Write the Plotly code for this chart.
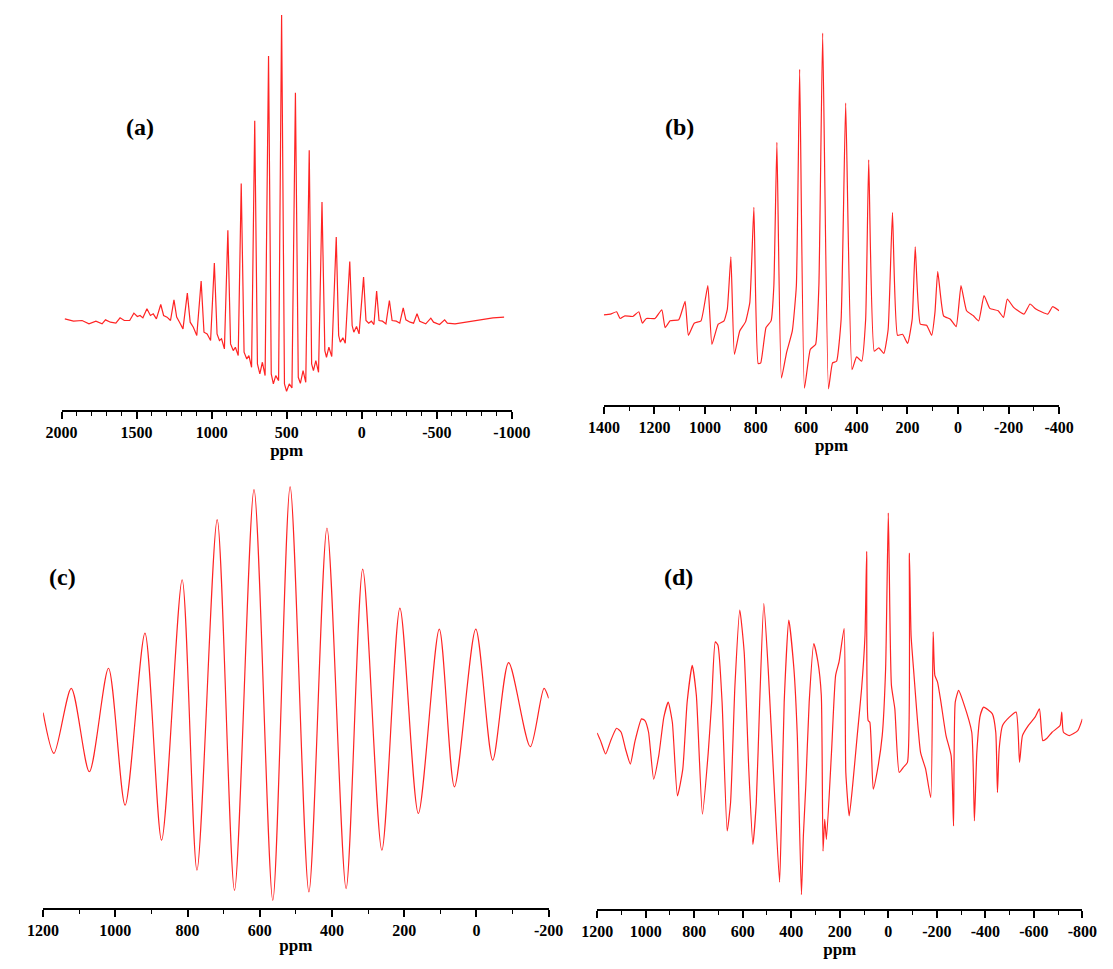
import plotly.graph_objects as go

# ---------------- data ----------------
# panel (a): chemical shift (ppm) and intensity (arb. units, 0 = axis)
a_ppm = [1978, 1920, 1863, 1817, 1771, 1730, 1707, 1674, 1638, 1610, 1582, 1546, 1518, 1495, 1477, 1458,
         1431, 1408, 1389, 1368, 1339, 1320, 1297, 1274, 1251, 1233, 1214, 1191, 1162, 1143, 1122, 1099,
         1070, 1051, 1030, 1007, 982, 964, 948, 934, 915, 892, 874, 856, 842, 823, 803, 784, 766, 752, 734,
         713, 695, 679, 662, 644, 621, 603, 589, 573, 554, 534, 515, 501, 483, 465, 442, 423, 409, 391, 373,
         350, 334, 322, 306, 288, 265, 246, 235, 219, 200, 170, 154, 143, 126, 110, 80, 64, 53, 35, 18,
         -12, -28, -46, -64, -81, -99, -115, -138, -161, -184, -202, -230, -253, -276, -294, -322, -345,
         -368, -386, -426, -460, -478, -518, -552, -570, -621, -690, -782, -874, -948]
a_int = [273, 266, 268, 258, 266, 258, 270, 263, 260, 276, 268, 268, 290, 280, 283, 276,
         303, 283, 288, 273, 316, 283, 278, 268, 330, 278, 263, 243, 350, 263, 248, 223,
         386, 233, 228, 208, 440, 228, 208, 213, 183, 538, 198, 178, 188, 163, 678, 173, 153, 163, 128,
         866, 138, 108, 143, 103, 1060, 108, 78, 103, 88, 1183, 78, 56, 78, 66, 950, 98, 80, 118, 83,
         778, 138, 118, 148, 113, 623, 178, 158, 188, 160, 518, 223, 203, 216, 200, 445, 253, 233, 250, 228,
         398, 268, 260, 266, 256, 356, 268, 266, 258, 328, 268, 266, 260, 306, 270, 263, 260,
         288, 266, 258, 275, 263, 256, 270, 260, 258, 263, 268, 276, 278]

# panel (b)
b_ppm = [1401, 1374, 1350, 1336, 1317, 1286, 1262, 1248, 1232, 1198, 1171, 1158, 1138, 1104, 1079, 1066,
         1043, 1016, 989, 973, 948, 925, 912, 898, 884, 863, 840, 823, 807, 790, 780, 759, 739, 728, 716,
         698, 678, 655, 639, 626, 607, 584, 563, 550, 535, 512, 496, 480, 462, 444, 419, 401, 381, 365, 353,
         331, 313, 293, 276, 259, 239, 219, 199, 181, 169, 149, 124, 104, 91, 80, 57, 30, 7, -12, -34, -61,
         -82, -103, -126, -159, -180, -195, -220, -261, -285, -308, -355, -374, -400]
b_int = [268, 270, 277, 257, 265, 263, 277, 243, 257, 257, 283, 230, 250, 253, 308, 207,
         243, 250, 355, 180, 240, 250, 285, 440, 150, 220, 247, 305, 587, 123, 125, 230, 250, 355, 780,
         80, 155, 220, 355, 997, 50, 165, 180, 355, 1105, 48, 125, 130, 255, 897, 105, 143, 130, 255, 728,
         160, 170, 153, 225, 572, 207, 210, 183, 255, 470, 240, 237, 207, 275, 397, 265, 255, 233, 355, 280, 265,
         250, 325, 287, 280, 260, 315, 290, 270, 300, 285, 270, 292, 280]

# panel (c): extrema of the oscillating spectrum
c_ppm = [1200, 1170, 1122, 1072, 1019, 973, 918, 872, 815, 774, 718, 670, 616, 564, 516, 464, 414,
         361, 315, 262, 212, 161, 103, 61, 2, -45, -89, -149, -187, -200]
c_int = [585, 463, 658, 408, 718, 308, 823, 203, 983, 113, 1163, 53, 1253, 23, 1261, 48, 1138,
         58, 1015, 173, 898, 283, 835, 363, 835, 443, 735, 483, 658, 628]

# panel (d)
d_ppm = [1200, 1186, 1165, 1144, 1120, 1101, 1083, 1063, 1045, 1017, 1003, 988, 967, 946, 925, 907, 890,
         869, 847, 829, 808, 791, 766, 742, 728, 713, 702, 685, 664, 650, 632, 612, 594, 575, 558, 544,
         530, 513, 495, 474, 448, 439, 429, 410, 389, 375, 358, 350, 340, 326, 307, 290, 276, 269, 262,
         255, 234, 217, 203, 182, 175, 161, 147, 128, 110, 96, 89, 83, 76, 62, 44, 25, 11, 0, -4, -13,
         -27, -45, -62, -79, -87, -94, -104, -133, -154, -175, -185, -192, -203, -217, -238, -259, -269,
         -276, -290, -309, -344, -355, -365, -379, -393, -429, -443, -450, -457, -471, -499, -527, -541,
         -553, -577, -605, -623, -637, -654, -675, -708, -715, -722, -746, -781, -800]
d_int = [526, 503, 463, 503, 540, 528, 478, 433, 498, 568, 563, 528, 388, 458, 573, 618, 558,
         338, 418, 618, 728, 638, 283, 468, 618, 798, 788, 618, 233, 318, 668, 893, 768, 418, 193, 318,
         618, 913, 718, 418, 80, 318, 618, 863, 718, 518, 43, 218, 368, 618, 793, 738, 638, 173, 268,
         208, 468, 698, 738, 838, 408, 278, 368, 518, 658, 818, 1068, 563, 558, 358, 418, 518, 718, 1183, 1018, 668,
         598, 408, 423, 438, 1063, 818, 718, 468, 418, 333, 828, 698, 678, 618, 518, 458, 248,
         618, 653, 618, 528, 263, 468, 578, 603, 583, 528, 348, 478, 548, 573, 588, 438,
         518, 548, 573, 598, 503, 510, 528, 548, 588, 528, 518, 533, 568]

# tick labels
a_ticks = [2000, 1500, 1000, 500, 0, -500, -1000]
b_ticks = [1400, 1200, 1000, 800, 600, 400, 200, 0, -200, -400]
c_ticks = [1200, 1000, 800, 600, 400, 200, 0, -200]
d_ticks = [1200, 1000, 800, 600, 400, 200, 0, -200, -400, -600, -800]
panel_labels = ["(a)", "(b)", "(c)", "(d)"]

# ---------------- layout (pixel geometry) ----------------
W, H = 1113, 969
RED = "#ff2424"
SERIF = "Liberation Serif"

# (x_left_px, x_right_px, axis_px, top_px, y_max, x_first, x_last, ticks, shape, smoothing, label_xy)
panels = [
    (47, 512, 410, 9.3, 1200, 2000, -1000, a_ticks, "linear", None, (128, 127), a_ppm, a_int),
    (607, 1077, 405, 28, 1120, 1400, -400, b_ticks, "spline", 0.4, (685, 127), b_ppm, b_int),
    (28, 550, 908, 480.6, 1280, 1200, -200, c_ticks, "spline", 0.8, (48, 577), c_ppm, c_int),
    (600, 1101, 909, 507.3, 1200, 1200, -800, d_ticks, "spline", 0.5, (684, 577), d_ppm, d_int),
]

fig = go.Figure()
layout = dict(
    width=W, height=H, margin=dict(l=0, r=0, t=0, b=0),
    paper_bgcolor="white", plot_bgcolor="white", showlegend=False,
    annotations=[],
)

for i, (x0, x1, yax, ytop, ymax, xf, xl, ticks, shape, sm, lab, xs, ys) in enumerate(panels):
    n = "" if i == 0 else str(i + 1)
    line = dict(color=RED, width=1.2, shape=shape)
    if sm is not None:
        line["smoothing"] = sm
    fig.add_trace(go.Scatter(
        x=xs, y=ys, mode="lines", line=line,
        xaxis="x" + n, yaxis="y" + n, hoverinfo="skip",
    ))
    layout["xaxis" + n] = dict(
        domain=[x0 / W, x1 / W], range=[xf, xl], anchor="y" + n,
        showline=True, linecolor="black", linewidth=2, showgrid=False, zeroline=False,
        tickmode="array", tickvals=ticks, ticktext=[str(t) for t in ticks],
        ticks="outside", ticklen=7, tickwidth=1.5, tickcolor="black",
        tickfont=dict(family=SERIF, size=16, color="black", weight="bold"),
        minor=dict(ticks="outside", ticklen=4, tickwidth=1.2, tickcolor="black",
                   tickmode="linear", tick0=0, dtick=100, showgrid=False),
        title=dict(text="ppm", font=dict(family=SERIF, size=17, color="black", weight="bold"), standoff=1),
    )
    layout["yaxis" + n] = dict(
        domain=[1 - yax / H, 1 - ytop / H], range=[0, ymax], anchor="x" + n,
        visible=False, showgrid=False, zeroline=False,
    )
    layout["annotations"].append(dict(
        text=panel_labels[i], x=lab[0] / W, y=1 - lab[1] / H, xref="paper", yref="paper",
        showarrow=False, xanchor="center", yanchor="middle",
        font=dict(family=SERIF, size=24, color="black", weight="bold"),
    ))

fig.update_layout(**layout)
fig.write_html("out.html")
